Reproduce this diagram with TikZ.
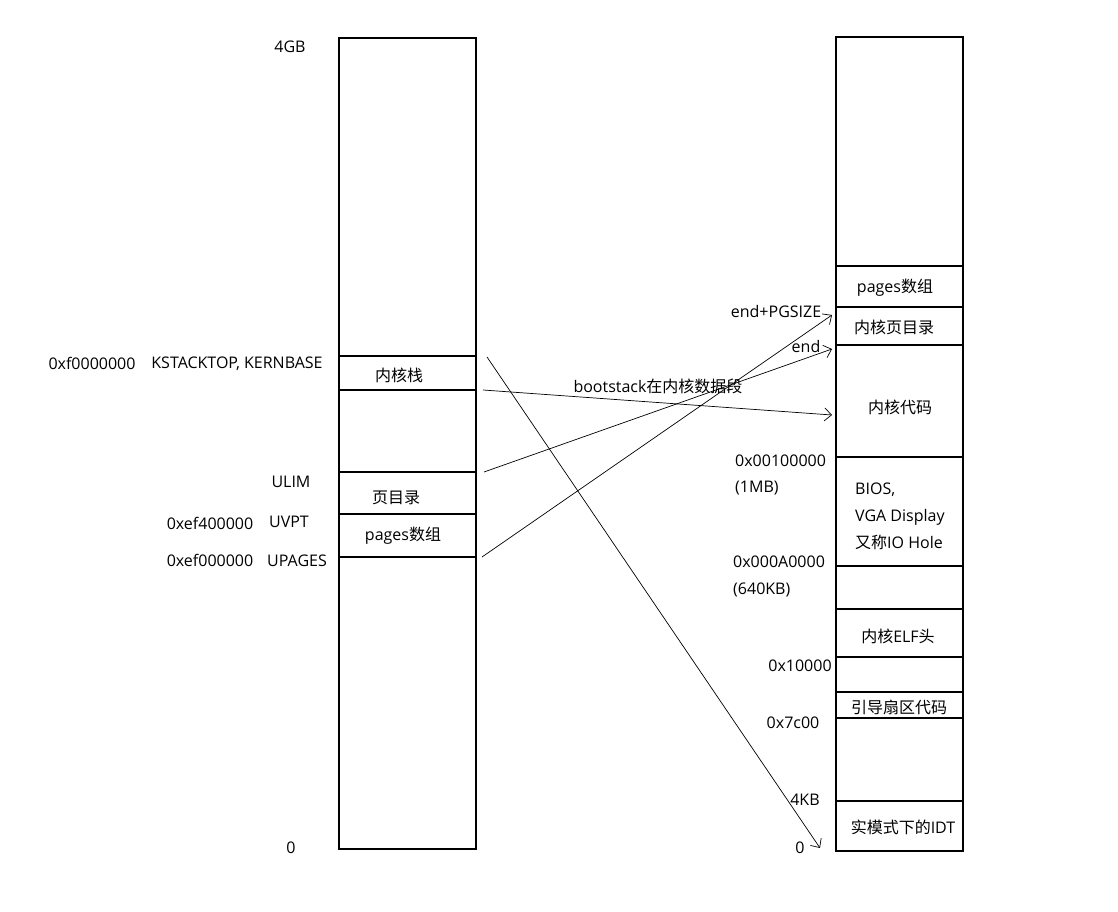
\documentclass[tikz,border=0pt]{standalone}
\usepackage{fontspec}
\setmainfont{Open Sans}
\newfontfamily\cj{Noto Sans CJK SC}
\usetikzlibrary{arrows.meta}
\begin{document}
\begin{tikzpicture}[x=1pt,y=-1pt,
  box/.style={draw=black,line width=1.2pt},
  sep/.style={draw=black,line width=1.2pt},
  lbl/.style={inner sep=0pt,anchor=base,font=\fontsize{16}{19}\selectfont},
  conn/.style={draw=black,line width=0.7pt,-{Straight Barb[length=7pt,width=13pt,line width=0.7pt]}}]
\useasboundingbox (0,0) rectangle (1118,912);
\fill[white] (0,0) rectangle (1118,912);
% left column
\draw[box] (339,38) rectangle (476,849);
\foreach \yy in {356,390,472,514,557} \draw[sep] (339,\yy) -- (476,\yy);
% right column
\draw[box] (836,37) rectangle (963,851);
\foreach \yy in {266,307,345,457,566,609,657,692,718,801} \draw[sep] (836,\yy) -- (963,\yy);
% left labels
\node[lbl] (l4gb) at (290,53) {4GB};
\node[lbl] (l0) at (291,853) {0};
\node[lbl] (lkb) at (92,369) {0xf0000000};
\node[lbl] (lks) at (237,368) {KSTACKTOP, KERNBASE};
\node[lbl] (lstk) at (399,381) {\cj 内核栈};
\node[lbl] (lulim) at (291,487) {ULIM};
\node[lbl] (lpd) at (396,503) {\cj 页目录};
\node[lbl] (luvpta) at (210,529) {0xef400000};
\node[lbl] (luvpt) at (289,527) {UVPT};
\node[lbl] (lpg) at (403,540) {pages{\cj 数组}};
\node[lbl] (lupa) at (210,566) {0xef000000};
\node[lbl] (lup) at (297,566) {UPAGES};
% middle labels
\node[lbl] (boot) at (658,392) {bootstack{\cj 在内核数据段}};
\node[lbl] (epg) at (776,317) {end+PGSIZE};
\node[lbl] (eend) at (806,352) {end};
% right labels
\node[lbl] (rpg) at (895,292) {pages{\cj 数组}};
\node[lbl] (rkpd) at (894,333) {\cj 内核页目录};
\node[lbl] (rcode) at (900,413) {\cj 内核代码};
\node[lbl,anchor=base west] (rbios) at (855,494) {BIOS,};
\node[lbl,anchor=base west] (rvga) at (855,521) {VGA Display};
\node[lbl,anchor=base west] (rio) at (855,548) {{\cj 又称}IO Hole};
\node[lbl] (relf) at (898,642) {{\cj 内核}ELF{\cj 头}};
\node[lbl] (rboot) at (899,713) {\cj 引导扇区代码};
\node[lbl] (ridt) at (903,833) {{\cj 实模式下的}IDT};
\node[lbl,anchor=base west] (a1m) at (735,466) {0x00100000};
\node[lbl,anchor=base west] (a1mb) at (735,492) {(1MB)};
\node[lbl,anchor=base west] (a640) at (733,567) {0x000A0000};
\node[lbl,anchor=base west] (a640b) at (733,594) {(640KB)};
\node[lbl] (a10k) at (800,671) {0x10000};
\node[lbl] (a7c) at (793,728) {0x7c00};
\node[lbl] (a4k) at (805,805) {4KB};
\node[lbl] (a0) at (800,853) {0};
% connector endpoints
\coordinate (s1) at (487,357);
\coordinate (t1) at (820,848);
\coordinate (s2) at (483,390);
\coordinate (t2) at (832,415);
\coordinate (s3) at (484,472);
\coordinate (t3) at (832,349);
\coordinate (s4) at (482,557);
\coordinate (t4) at (832,315);
\draw[conn] (s1) -- (t1);
\draw[conn] (s2) -- (t2);
\draw[conn] (s3) -- (t3);
\draw[conn] (s4) -- (t4);
\end{tikzpicture}
\end{document}
